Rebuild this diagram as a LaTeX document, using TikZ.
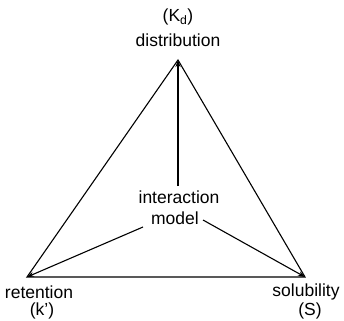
\documentclass[tikz,border=0pt]{standalone}
\usepackage{fontspec}
\setmainfont{Liberation Sans}
\usetikzlibrary{arrows.meta}
\begin{document}
\begin{tikzpicture}[x=1pt,y=-1pt,
  lbl/.style={font=\fontsize{17.5}{18}\selectfont, inner sep=0pt, align=center},
  edge/.style={line width=1.1pt},
  spoke/.style={line width=1.1pt, -{Stealth[length=7pt,width=5pt]}}]
\useasboundingbox (0,0) rectangle (344,320);
\coordinate (T) at (178,60);
\coordinate (L) at (27,277);
\coordinate (R) at (305,277);
\node[lbl] (kd) at (178,17) {(K\textsubscript{d})};
\node[lbl] (dist) at (178,40) {distribution};
\node[lbl] (ret) at (39,292) {retention};
\node[lbl] (kp) at (42,311) {(k')};
\node[lbl] (sol) at (306,292) {solubility};
\node[lbl] (S) at (310,311) {(S)};
\node[lbl] (int) at (179,197) {interaction};
\node[lbl] (mod) at (175,218) {model};
\draw[edge] (T) -- (L) -- (R) -- cycle;
\coordinate (c1) at (178,186);
\coordinate (c2) at (143,227);
\coordinate (c3) at (203,220);
\draw[spoke] (c1) -- (T);
\draw[spoke] (c2) -- (L);
\draw[spoke] (c3) -- (R);
\end{tikzpicture}
\end{document}
